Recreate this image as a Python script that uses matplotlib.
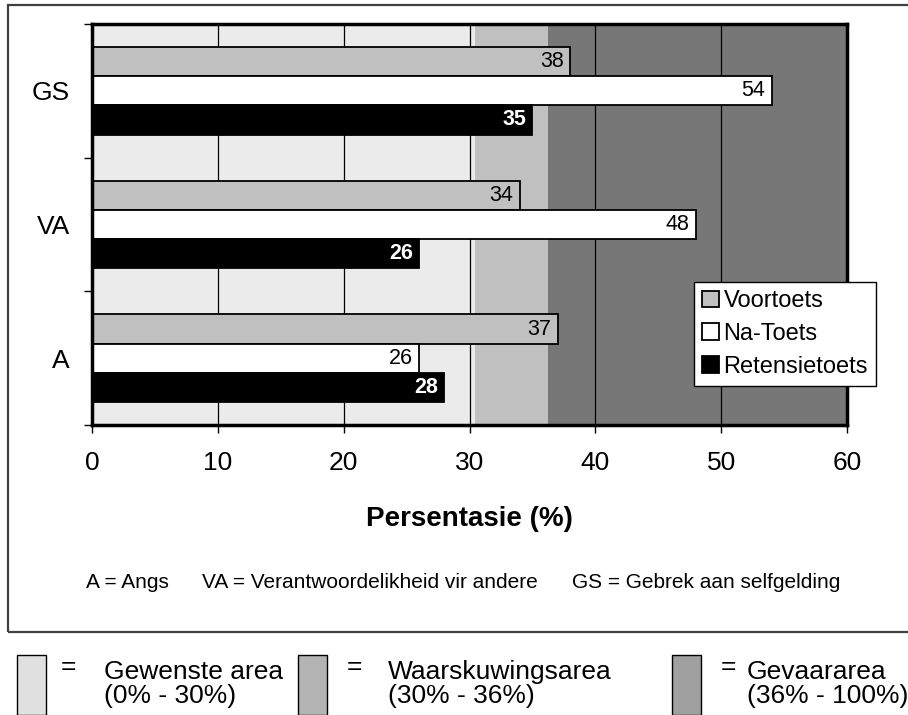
import matplotlib
matplotlib.use("Agg")
import matplotlib.pyplot as plt
from matplotlib.patches import Rectangle
import numpy as np

plt.rcParams['font.family'] = ['Liberation Sans', 'DejaVu Sans']

categories = ["A", "VA", "GS"]
series_names = ["Voortoets", "Na-Toets", "Retensietoets"]
voortoets = [37, 34, 38]
na_toets = [26, 48, 54]
retensie = [28, 26, 35]
series_colors = ["#c0c0c0", "#ffffff", "#000000"]
label_colors = ["black", "black", "white"]
label_weights = ["normal", "normal", "bold"]
bands = [(0, 30.4, "#ebebeb"), (30.4, 36.2, "#c0c0c0"), (36.2, 60, "#777777")]
xticks = [0, 10, 20, 30, 40, 50, 60]

fig = plt.figure(figsize=(9.08, 7.15), dpi=100)
# outer frame
fig.patches.append(Rectangle((8/908, 1-632/715), 1.2, (632-5)/715, transform=fig.transFigure,
                             fill=False, edgecolor="#404040", linewidth=1.6))

ax = fig.add_axes([92/908, 1-425/715, (847-92)/908, (425-24)/715])
for x0, x1, c in bands:
    ax.axvspan(x0, x1, color=c, zorder=0, linewidth=0)
for x in xticks[1:-1]:
    ax.axvline(x, color="black", linewidth=0.9, zorder=1)

y = np.arange(len(categories))
h = 0.218
offsets = [h, 0, -h]
data = [voortoets, na_toets, retensie]
for i, (vals, name) in enumerate(zip(data, series_names)):
    bars = ax.barh(y + offsets[i], vals, height=h, color=series_colors[i], edgecolor="black",
                   linewidth=1.3, label=name, zorder=2)
    for b, v in zip(bars, vals):
        kw = {}
        if i == 2:
            kw["bbox"] = dict(facecolor="black", edgecolor="none", pad=1.5)
        ax.text(v - 0.5, b.get_y() + b.get_height()/2, str(v), ha="right", va="center",
                fontsize=15.5, color=label_colors[i], fontweight=label_weights[i], zorder=3, **kw)

ax.set_xlim(0, 60)
ax.set_ylim(-0.5, 2.5)
ax.set_xticks(xticks)
ax.set_xticklabels([str(t) for t in xticks], fontsize=19)
ax.set_yticks(y)
ax.set_yticklabels(categories, fontsize=19)
ax.tick_params(axis="y", length=0, pad=16)
ax.set_yticks([-0.5, 0.5, 1.5, 2.5], minor=True)
ax.tick_params(axis="y", which="minor", length=6, width=1, direction="out")
ax.tick_params(axis="x", length=6, width=1, direction="out", pad=13)
for s in ax.spines.values():
    s.set_linewidth(2.5)
ax.set_xlabel("Persentasie (%)", fontsize=20, fontweight="bold", labelpad=22)

leg = ax.legend(loc="upper left", bbox_to_anchor=((694-92)/755, (425-282)/401), fontsize=17,
                frameon=True, fancybox=False, edgecolor="black", facecolor="white", framealpha=1,
                handlelength=0.7, handleheight=0.7, handletextpad=0.2, borderpad=0.35,
                labelspacing=0.45, borderaxespad=0)
leg.get_frame().set_linewidth(1)

fig.text(86/908, 1-583/715, "A = Angs", fontsize=15, va="center", ha="left")
fig.text(202/908, 1-583/715, "VA = Verantwoordelikheid vir andere", fontsize=15, va="center", ha="left")
fig.text(572/908, 1-583/715, "GS = Gebrek aan selfgelding", fontsize=15, va="center", ha="left")

# bottom legend
leg_items = [(17, "#e0e0e0", 61, 104, "Gewenste area\n(0% - 30%)"),
             (298, "#b4b4b4", 347, 388, "Waarskuwingsarea\n(30% - 36%)"),
             (672, "#a0a0a0", 721, 747, "Gevaararea\n(36% - 100%)")]
for xs, col, xe, xt, txt in leg_items:
    fig.patches.append(Rectangle((xs/908, 0), 29/908, (715-655)/715, transform=fig.transFigure,
                                 facecolor=col, edgecolor="black", linewidth=1))
    fig.text(xe/908, 1-667/715, "=", fontsize=19, va="center", ha="left")
    fig.text(xt/908, 1-684/715, txt, fontsize=19, va="center", ha="left", linespacing=1.05)

fig.savefig("out.png", dpi=100)
